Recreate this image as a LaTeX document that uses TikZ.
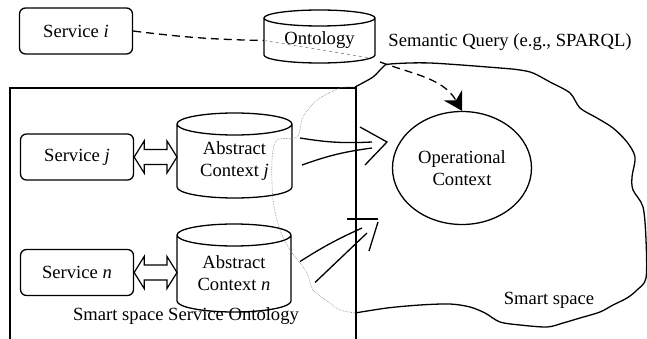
\documentclass[tikz,border=0pt]{standalone}
\usepackage{fontspec}
\setmainfont{Liberation Serif}
\usetikzlibrary{shapes.geometric, arrows.meta, calc}
\tikzstyle{service} = [rectangle, rounded corners=6pt, minimum width=113pt, minimum height=46pt, text centered, draw=black, line width=1.3pt]
\tikzstyle{store} = [rectangle, inner sep=0pt, outer sep=0pt, align=center]
\tikzstyle{line} = [line width=1.3pt]
\tikzstyle{bind} = [line width=1.2pt, line join=miter]
\tikzstyle{query} = [line width=1.3pt, dash pattern=on 8pt off 5pt]
\tikzstyle{hidden} = [gray, line width=0.6pt, densely dotted]

% cylinder outline round a store node: #1 node, #2 radius of the end ellipses
\newcommand{\storeoutline}[2]{%
  \draw [line] let \p1 = ($(#1.east)-(#1.west)$) in
    (#1.north) ellipse [x radius=0.5*\x1, y radius=#2]
    (#1.north west) -- ([yshift=#2]#1.south west)
    arc [start angle=180, end angle=360, x radius=0.5*\x1, y radius=#2]
    -- (#1.north east);}

% hollow two-headed arrow from #1 to #2
\newcommand{\bindarrow}[2]{%
  \draw [bind] (#1.east) -- ++(10,-16) -- ++(0,8.5) -- ($(#2.west |- #1.east)+(-10,-7.5)$)
    -- ++(0,-8.5) -- (#2.west |- #1.east) -- ++(-10,16) -- ++(0,-8.5)
    -- ($(#1.east)+(10,7.5)$) -- ++(0,8.5) -- cycle;}

\begin{document}
\begin{tikzpicture}[x=1pt, y=-1pt, font=\fontsize{18.6}{22}\selectfont]
                  \useasboundingbox (0,0) rectangle (647,339);
                  % services and ontologies
                  \node (si) [service] at (76,31) {Service \textit{i}};
                  \node (onto) [store, minimum width=111pt, minimum height=45pt] at (319.5,40.5) {Ontology};
                  \node (querylabel) at (510,42) {Semantic Query (e.g., SPARQL)};
                  \node (sj) [service] at (77,157) {Service \textit{j}};
                  \node (acj) [store, minimum width=115pt, minimum height=74pt] at (234.5,161) {Abstract\\Context \textit{j}};
                  \node (sn) [service] at (77,272.5) {Service \textit{n}};
                  \node (acn) [store, minimum width=114pt, minimum height=77pt] at (234,273.5) {Abstract\\Context \textit{n}};
                  \node (sslabel) at (186,316) {Smart space Service Ontology};
                  \node (opctx) [ellipse, draw=black, line width=1.3pt, minimum width=139pt, minimum height=113pt, align=center] at (462,168) {Operational\\Context};
                  \node (smartlabel) at (549,300) {Smart space};
                  \storeoutline{onto}{8pt}
                  \storeoutline{acj}{11pt}
                  \storeoutline{acn}{11pt}
                  \bindarrow{sj}{acj}
                  \bindarrow{sn}{acn}

                  % service ontology frame
                  \draw [line] (10,339) -- (10,88) -- (356,88) -- (356,339);

                  % smart space
                  \draw [hidden] plot[smooth] coordinates {(355,313) (340,310) (330,303) (313,290) (307,273) (290,250) (280,230) (273,200) (272,160) (277,140) (297,137) (303,117) (317,100) (340,88) (353,87)};
                  \draw [line] plot[smooth] coordinates {(355,313) (387,308) (420,305) (450,304) (470,307) (485,313) (500,322) (520,325) (547,327) (563,323) (580,318) (600,312) (613,305) (627,298) (637,290) (646,278) (646,240) (643,207) (633,190) (632,177) (635,157) (627,142) (613,128) (597,118) (580,108) (570,93) (550,82) (533,73) (520,70) (500,68) (430,63) (390,64) (383,67) (373,77) (355,87)};

                  % query
                  \draw [query] (si.east) to [bend right=3] (onto.west);
                  \draw [hidden, dashed] (onto.west) -- ($(onto.south east)+(-5,-5)$);
                  \draw [query, -{Stealth[length=18pt, width=21pt]}] ($(onto.south east)+(5,-1)$) to [out=-20, in=120] (opctx.north);

                  % abstract to operational
                  \coordinate (jtip) at (387,142);
                  \coordinate (ntip) at (378,219);
                  \draw [line] ($(acj.east)+(8,-23)$) to [bend right=6] ($(jtip)+(-15,0)$);
                  \draw [line] ($(acj.east)+(10,4)$) to [bend left=6] ($(jtip)+(-15,6)$);
                  \draw [line] (360,127) -- (jtip) -- (365,165);
                  \draw [line] ($(acn.east)+(9,-12)$) to [bend left=4] ($(ntip)+(-16,9)$);
                  \draw [line] ($(acn.east)+(24,9)$) -- ($(ntip)+(-11,14)$);
                  \draw [line] (347,219) -- (ntip);
                  \draw [line] ($(ntip)+(0,3)$) -- (369,251);
              \end{tikzpicture}
\end{document}
